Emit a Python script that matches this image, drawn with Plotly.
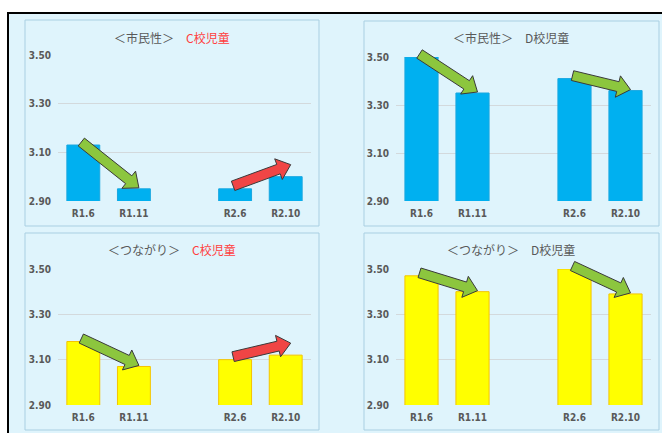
import plotly.graph_objects as go
import math

W, H = 662, 433

# ---------------- data ----------------
PERIODS = ["R1.6", "R1.11", "R2.6", "R2.10"]
CIVIC_C = [3.13, 2.95, 2.95, 3.00]
CIVIC_D = [3.50, 3.35, 3.41, 3.36]
CONNECT_C = [3.18, 3.07, 3.10, 3.12]
CONNECT_D = [3.47, 3.40, 3.50, 3.39]
Y_TICKS = [2.90, 3.10, 3.30, 3.50]
TOPICS = ["＜市民性＞", "＜つながり＞"]
SCHOOLS = ["C校児童", "D校児童"]
ARROW_PAIRS = [(0, 1), (2, 3)]

# ---------------- styles / layout ----------------
BG = "#dff4fc"
FRAME_COL = "#a9cfe2"
BLUE = "#00b0f0"
YELLOW = "#ffff00"
GRID = "#d3d9dc"
TXT = "#595959"
RED_TXT = "#ff4040"
GREEN_ARROW = "#8cc63e"
RED_ARROW = "#f04545"
Y_RANGE = [2.9, 3.5]
N_SLOTS = 5

panels = [
    dict(vals=CIVIC_C, color=BLUE, line="#19a7e0", topic=0, school=0,
         plot=(58, 55, 311, 201), frame=(25, 20, 319, 226), ty=37, tx=172),
    dict(vals=CIVIC_D, color=BLUE, line="#19a7e0", topic=0, school=1,
         plot=(396, 57, 651, 201), frame=(364, 21, 659, 226), ty=37, tx=511),
    dict(vals=CONNECT_C, color=YELLOW, line="#f5c400", topic=1, school=0,
         plot=(58, 269, 311, 405), frame=(25, 233, 319, 430), ty=249, tx=172),
    dict(vals=CONNECT_D, color=YELLOW, line="#f5c400", topic=1, school=1,
         plot=(396, 269, 651, 405), frame=(364, 233, 659, 430), ty=249, tx=511),
]


def slot(i):
    # an empty slot separates the two school years
    return i + (1 if i >= 2 else 0)


xs = [slot(i) for i in range(len(PERIODS))]

fig = go.Figure()
shapes = []
annotations = []

# outer frame + background
shapes.append(dict(type="rect", xref="paper", yref="paper",
                   x0=8 / W, x1=700 / W, y0=1 - 460 / H, y1=1 - 13 / H,
                   line=dict(color="black", width=2), fillcolor=BG, layer="below"))

for k, p in enumerate(panels):
    n = "" if k == 0 else str(k + 1)
    px0, py0, px1, py1 = p["plot"]
    fx0, fy0, fx1, fy1 = p["frame"]
    shapes.append(dict(type="rect", xref="paper", yref="paper",
                       x0=fx0 / W, x1=fx1 / W, y0=1 - fy1 / H, y1=1 - fy0 / H,
                       line=dict(color=FRAME_COL, width=1), fillcolor=BG, layer="below"))
    fig.add_trace(go.Bar(x=xs, y=p["vals"], xaxis="x" + n, yaxis="y" + n,
                         marker=dict(color=p["color"], line=dict(color=p["line"], width=1)),
                         showlegend=False, hoverinfo="skip"))
    fig.layout["xaxis" + n] = dict(
        domain=[px0 / W, px1 / W], anchor="y" + n, range=[-0.5, N_SLOTS - 0.5],
        tickvals=xs, ticktext=PERIODS, showgrid=False, zeroline=False, showline=False,
        ticks="", ticklabelstandoff=5, automargin=False,
        tickfont=dict(family="DejaVu Sans Condensed", size=10, color=TXT, weight="bold"),
        fixedrange=True)
    fig.layout["yaxis" + n] = dict(
        domain=[1 - py1 / H, 1 - py0 / H], anchor="x" + n, range=Y_RANGE,
        tickvals=Y_TICKS, tickformat=".2f", showgrid=True, gridcolor=GRID, gridwidth=1,
        zeroline=False, showline=False, ticks="", ticklabelstandoff=6, automargin=False,
        tickfont=dict(family="DejaVu Sans Condensed", size=10, color=TXT, weight="bold"),
        fixedrange=True)

    school_col = RED_TXT if p["school"] == 0 else TXT
    annotations.append(dict(
        xref="paper", yref="paper", x=p["tx"] / W, y=1 - p["ty"] / H,
        xanchor="center", yanchor="middle", showarrow=False,
        text=TOPICS[p["topic"]] + "　<span style='color:%s'>%s</span>" % (school_col, SCHOOLS[p["school"]]),
        font=dict(family="Noto Sans CJK JP", size=12, color=TXT)))

    # pixel helpers (data -> page pixels of this panel)
    def xpix(x, px0=px0, px1=px1):
        return px0 + (x + 0.5) / N_SLOTS * (px1 - px0)

    def ypix(v, py0=py0, py1=py1):
        return py1 - (v - Y_RANGE[0]) / (Y_RANGE[1] - Y_RANGE[0]) * (py1 - py0)

    # block arrows between consecutive surveys: green = decrease, red = increase
    for a, b in ARROW_PAIRS:
        va, vb = p["vals"][a], p["vals"][b]
        down = vb < va
        tx_, ty_ = xpix(xs[a]) - 2, ypix(va) - 3
        hx_, hy_ = xpix(xs[b]) + 5, ypix(vb) - (1 if down else 12)
        dx, dy = hx_ - tx_, hy_ - ty_
        L = math.hypot(dx, dy)
        ux, uy = dx / L, dy / L
        nx, ny = -uy, ux
        w, h, hl = 5, 11, 13
        bx, by = hx_ - ux * hl, hy_ - uy * hl
        pts = [(tx_ + nx * w, ty_ + ny * w), (bx + nx * w, by + ny * w),
               (bx + nx * h, by + ny * h), (hx_, hy_),
               (bx - nx * h, by - ny * h), (bx - nx * w, by - ny * w),
               (tx_ - nx * w, ty_ - ny * w)]
        path = "M " + " L ".join("%.5f,%.5f" % (x / W, 1 - y / H) for x, y in pts) + " Z"
        shapes.append(dict(type="path", xref="paper", yref="paper", path=path,
                           fillcolor=GREEN_ARROW if down else RED_ARROW,
                           line=dict(color="#3a3a3a", width=1), layer="above"))

fig.update_layout(
    width=W, height=H, autosize=False,
    margin=dict(l=0, r=0, t=0, b=0, pad=0),
    paper_bgcolor="white", plot_bgcolor="rgba(0,0,0,0)",
    bargap=0.35, shapes=shapes, annotations=annotations, showlegend=False,
)

POST = ("var gd=document.getElementById('{plot_id}');"
        "gd.style.position='fixed';gd.style.top='0px';gd.style.left='0px';"
        "var de=document.documentElement, b=document.body;"
        "b.style.margin='0px';b.style.padding='0px';"
        "de.style.overflow='hidden';b.style.overflow='hidden';")

fig.write_html("out.html", config={"displayModeBar": False}, post_script=POST)
